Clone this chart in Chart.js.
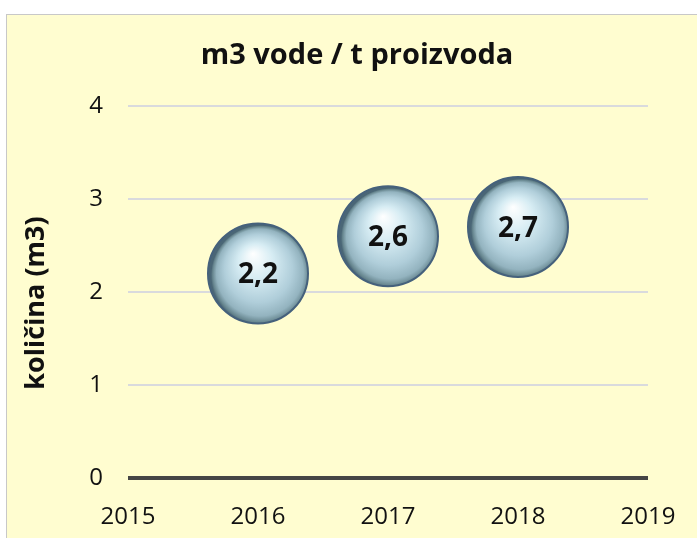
<!DOCTYPE html>
<html>
<head>
<meta charset="utf-8">
<script src="https://cdn.jsdelivr.net/npm/chart.js@4/dist/chart.umd.min.js"></script>
<style>
    html, body { margin: 0; padding: 0; background: #ffffff; overflow: hidden; }
    #frame {
        position: absolute;
        left: 6px;
        top: 14px;
        width: 700px;
        height: 530px;
        border: 1px solid #c8c8c8;
        background: #fffdd0;
    }
</style>
</head>
<body>
<div id="frame"><canvas id="chart"></canvas></div>
<script>
// Podaci s grafikona
const years = [2016, 2017, 2018];
const values = [2.2, 2.6, 2.7];
const valueLabels = ['2,2', '2,6', '2,7'];
const xRange = [2015, 2019];
const yRange = [0, 4];
const chartTitle = 'm3 vode / t proizvoda';
const yTitle = 'količina (m3)';

const FONT = '"Open Sans", "Noto Sans", sans-serif';

// Sjajni "stakleni" gradijent za svaki mjehurić
function bubbleFill(context) {
    const chart = context.chart;
    const raw = context.raw;
    if (!raw || !chart.scales.x) return '#b2d0da';
    const cx = chart.scales.x.getPixelForValue(raw.x);
    const cy = chart.scales.y.getPixelForValue(raw.y);
    if (!isFinite(cx) || !isFinite(cy)) return '#b2d0da';
    const r = 50;
    const g = chart.ctx.createRadialGradient(cx - 5, cy - r * 0.4, 0, cx + 3, cy + 2, r);
    g.addColorStop(0, '#ffffff');
    g.addColorStop(0.35, '#d6ecf3');
    g.addColorStop(0.68, '#b0ceda');
    g.addColorStop(0.87, '#93b3bf');
    g.addColorStop(0.96, '#67868f');
    g.addColorStop(1, '#4a6676');
    return g;
}

// Naslovi i oznake vrijednosti
const textPlugin = {
    id: 'texts',
    afterDraw(chart) {
        const ctx = chart.ctx;
        const area = chart.chartArea;
        ctx.save();
        ctx.fillStyle = '#111111';
        ctx.textAlign = 'center';
        ctx.textBaseline = 'middle';

        // glavni naslov
        ctx.font = 'bold 29px ' + FONT;
        ctx.fillText(chartTitle, chart.width / 2, area.top - 50);

        // naslov osi y
        ctx.save();
        ctx.translate(area.left - 92, (area.top + area.bottom) / 2 + 11);
        ctx.rotate(-Math.PI / 2);
        ctx.font = 'bold 27px ' + FONT;
        ctx.fillText(yTitle, 0, 0);
        ctx.restore();

        // vrijednosti u mjehurićima
        const meta = chart.getDatasetMeta(0);
        ctx.font = 'bold 28px ' + FONT;
        meta.data.forEach((el, i) => {
            ctx.fillText(valueLabels[i], el.x, el.y + 2);
        });
        ctx.restore();
    }
};

const ctx = document.getElementById('chart');

new Chart(ctx, {
    type: 'bubble',
    data: {
        datasets: [{
            label: chartTitle,
            data: years.map((y, i) => ({ x: y, y: values[i] })),
            radius: 50,
            backgroundColor: bubbleFill,
            borderColor: '#45617c',
            borderWidth: 2,
            hoverRadius: 0
        }]
    },
    options: {
        responsive: true,
        maintainAspectRatio: false,
        animation: false,
        events: [],
        layout: {
            padding: { left: 0, right: 59, top: 91, bottom: 0 }
        },
        plugins: {
            legend: { display: false },
            tooltip: { enabled: false },
            title: { display: false }
        },
        scales: {
            x: {
                type: 'linear',
                min: xRange[0],
                max: xRange[1],
                afterFit: function(scale) { scale.height = 67; },
                grid: { display: false, drawTicks: false },
                border: { display: false },
                ticks: {
                    stepSize: 1,
                    padding: 25,
                    color: '#111111',
                    font: { family: FONT, size: 24 },
                    callback: function(value) { return String(value); }
                }
            },
            y: {
                min: yRange[0],
                max: yRange[1],
                afterFit: function(scale) { scale.width = 121; },
                grid: {
                    drawTicks: false,
                    color: function(c) { return c.tick && c.tick.value === 0 ? '#454545' : '#d9dadd'; },
                    lineWidth: function(c) { return c.tick && c.tick.value === 0 ? 4 : 2; }
                },
                border: { display: false },
                ticks: {
                    stepSize: 1,
                    padding: 25,
                    color: '#111111',
                    font: { family: FONT, size: 24 }
                }
            }
        }
    },
    plugins: [textPlugin]
});
</script>
</body>
</html>
